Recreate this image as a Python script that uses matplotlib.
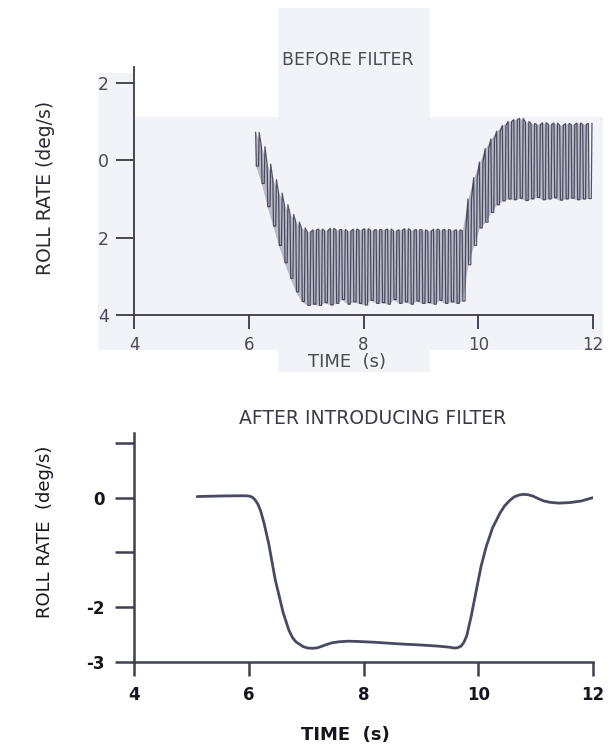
import matplotlib
matplotlib.use("Agg")
import matplotlib.pyplot as plt
from matplotlib.patches import Rectangle

# ---------------- data ----------------
# BEFORE FILTER: oscillating roll rate, one stroke per cycle (time, crest, trough)
osc_t = [6.12, 6.22, 6.32, 6.42, 6.52, 6.62, 6.72, 6.82, 6.92, 7.02,
         7.12, 7.22, 7.32, 7.42, 7.52, 7.62, 7.72, 7.82, 7.92, 8.02,
         8.12, 8.22, 8.32, 8.42, 8.52, 8.62, 8.72, 8.82, 8.92, 9.02,
         9.12, 9.22, 9.32, 9.42, 9.52, 9.62, 9.72, 9.82, 9.92, 10.02,
         10.12, 10.22, 10.32, 10.42, 10.52, 10.62, 10.72, 10.82, 10.92, 11.02,
         11.12, 11.22, 11.32, 11.42, 11.52, 11.62, 11.72, 11.82, 11.92]
osc_hi = [0.72, 0.35, -0.10, -0.50, -0.85, -1.15, -1.40, -1.60, -1.75, -1.85,
          -1.80, -1.78, -1.82, -1.76, -1.80, -1.79, -1.83, -1.78, -1.80, -1.77,
          -1.81, -1.79, -1.80, -1.78, -1.82, -1.80, -1.77, -1.81, -1.79, -1.80,
          -1.83, -1.78, -1.80, -1.79, -1.81, -1.80, -1.82, -1.00, -0.45, -0.05,
          0.30, 0.55, 0.75, 0.90, 1.00, 1.05, 1.08, 1.00, 0.95, 0.92,
          0.97, 0.93, 0.96, 0.90, 0.95, 0.92, 0.96, 0.93, 0.95]
osc_lo = [-0.15, -0.60, -1.20, -1.70, -2.20, -2.65, -3.05, -3.40, -3.65, -3.75,
          -3.72, -3.75, -3.68, -3.74, -3.70, -3.60, -3.72, -3.66, -3.70, -3.74,
          -3.62, -3.70, -3.68, -3.72, -3.60, -3.70, -3.66, -3.72, -3.64, -3.70,
          -3.68, -3.72, -3.62, -3.70, -3.66, -3.70, -3.64, -2.70, -2.20, -1.75,
          -1.60, -1.35, -1.15, -1.05, -1.00, -1.02, -0.98, -1.04, -1.00, -0.96,
          -1.02, -1.00, -0.97, -1.03, -1.00, -0.98, -1.02, -1.00, -0.99]

# AFTER INTRODUCING FILTER: smooth roll rate
filt_t = [5.10, 5.50, 5.90, 6.00, 6.06, 6.11, 6.16, 6.21, 6.27, 6.35, 6.46,
          6.60, 6.70, 6.76, 6.82, 6.89, 6.95, 7.03, 7.12, 7.20, 7.28, 7.36,
          7.45, 7.58, 7.73, 7.90, 8.20, 8.63, 9.00, 9.30, 9.50, 9.58, 9.64,
          9.70, 9.75, 9.80, 9.88, 9.97, 10.05, 10.14, 10.25, 10.38, 10.46,
          10.55, 10.62, 10.70, 10.78, 10.86, 10.95, 11.05, 11.14, 11.25,
          11.40, 11.60, 11.80, 12.00]
filt_v = [0.02, 0.03, 0.035, 0.03, 0.01, -0.04, -0.12, -0.25, -0.48, -0.85, -1.49,
          -2.10, -2.42, -2.55, -2.63, -2.68, -2.72, -2.745, -2.75, -2.74, -2.71, -2.68,
          -2.65, -2.63, -2.62, -2.625, -2.64, -2.67, -2.69, -2.71, -2.73, -2.745, -2.74,
          -2.71, -2.64, -2.52, -2.15, -1.67, -1.25, -0.89, -0.55, -0.28, -0.15,
          -0.05, 0.01, 0.045, 0.06, 0.055, 0.03, -0.02, -0.06, -0.085,
          -0.10, -0.09, -0.06, 0.00]

x_ticks = [4, 6, 8, 10, 12]
top_yticks = [2, 0, -2, -4]
top_ylabels = ['2', '0', '2', '4']
bot_yticks = [1, 0, -1, -2, -3]
bot_ylabels = ['', '0', '', '-2', '-3']

# ---------------- figure ----------------
W, H = 614, 746
fig = plt.figure(figsize=(W / 100, H / 100), dpi=100)
fig.patch.set_facecolor('white')

def fr(x0, y0, x1, y1):
    """pixel box (top-left origin) -> figure rect"""
    return (x0 / W, 1 - y1 / H, (x1 - x0) / W, (y1 - y0) / H)

bg = '#f2f3f9'
for box in [(98, 117, 603, 350), (98, 73, 134, 117), (278, 8, 430, 117), (278, 350, 430, 372)]:
    l, b, w, h = fr(*box)
    fig.patches.append(Rectangle((l, b), w, h, transform=fig.transFigure,
                                 facecolor=bg, edgecolor='none', zorder=-5))

top_col = '#2a2d3e'
txt_top = '#4a4a55'
ax1 = fig.add_axes(fr(134, 67, 593, 315))
ax1.set_zorder(2)
ax1.patch.set_alpha(0)
# grey band between crest and trough (scan grey between the strokes)
ax1.fill_between(osc_t, osc_hi, osc_lo, color='#b9bbca', lw=0)
# stroke trace: near-vertical fall and rise in each cycle
xs, ys = [], []
for t, hi, lo in zip(osc_t, osc_hi, osc_lo):
    xs += [t, t + 0.012, t + 0.05, t + 0.062]
    ys += [hi, lo, lo, hi]
ax1.plot(xs, ys, color=top_col, lw=0.9, alpha=0.8)
ax1.set_xlim(4, 12)
ax1.set_ylim(-4, 2.41)
ax1.set_xticks(x_ticks)
ax1.set_xticklabels([str(v) for v in x_ticks])
ax1.set_yticks(top_yticks)
ax1.set_yticklabels(top_ylabels)
for s in ['top', 'right']:
    ax1.spines[s].set_visible(False)
for s in ['left', 'bottom']:
    ax1.spines[s].set_color('#3a3b48')
    ax1.spines[s].set_linewidth(1.3)
ax1.tick_params(axis='x', direction='out', length=10, width=1.3, color='#3a3b48',
                labelsize=12, labelcolor=txt_top, pad=5)
ax1.tick_params(axis='y', direction='out', length=13, width=1.3, color='#3a3b48',
                labelsize=12.5, labelcolor=txt_top, pad=5)

fig.text(348 / W, 1 - 60 / H, 'BEFORE FILTER', ha='center', va='center',
         fontsize=12.5, color=txt_top)
fig.text(347 / W, 1 - 362 / H, 'TIME  (s)', ha='center', va='center',
         fontsize=13, color=txt_top)
fig.text(46 / W, 1 - 188 / H, 'ROLL RATE (deg/s)', ha='center', va='center',
         rotation=90, fontsize=13.5, color='#2a2a35')

# bottom panel
bot_col = '#474a63'
txt_bot = '#15151f'
ax2 = fig.add_axes(fr(134, 433, 593, 662))
ax2.plot(filt_t, filt_v, color=bot_col, lw=2.0, solid_capstyle='round',
         solid_joinstyle='round')
ax2.set_xlim(4, 12)
ax2.set_ylim(-3, 1.18)
ax2.set_xticks(x_ticks)
ax2.set_xticklabels([str(v) for v in x_ticks], fontweight='bold')
ax2.set_yticks(bot_yticks)
ax2.set_yticklabels(bot_ylabels, fontweight='bold')
for s in ['top', 'right']:
    ax2.spines[s].set_visible(False)
for s in ['left', 'bottom']:
    ax2.spines[s].set_color('#3e4052')
    ax2.spines[s].set_linewidth(1.8)
ax2.tick_params(axis='x', direction='out', length=10, width=1.8, color='#3e4052',
                labelsize=12, labelcolor=txt_bot, pad=7)
ax2.tick_params(axis='y', direction='out', length=14, width=1.8, color='#3e4052',
                labelsize=12, labelcolor=txt_bot, pad=7)

fig.text(373 / W, 1 - 418 / H, 'AFTER INTRODUCING FILTER', ha='center', va='center',
         fontsize=13.5, color='#3a3a48')
fig.text(345 / W, 1 - 735 / H, 'TIME  (s)', ha='center', va='center',
         fontsize=13, fontweight='bold', color=txt_bot)
fig.text(45 / W, 1 - 532 / H, 'ROLL RATE  (deg/s)', ha='center', va='center',
         rotation=90, fontsize=13, color=txt_bot)

fig.savefig('out.png', dpi=100, facecolor='white')
